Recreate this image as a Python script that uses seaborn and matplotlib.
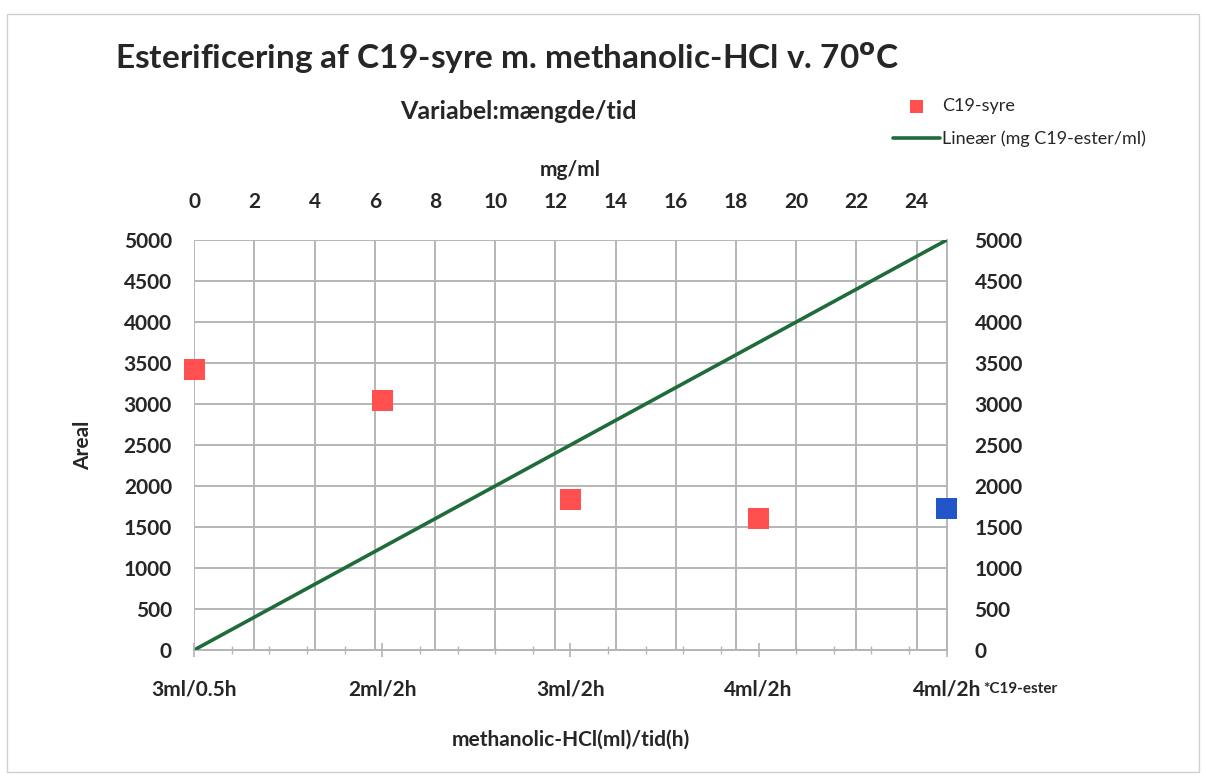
import matplotlib
matplotlib.use("Agg")
import matplotlib.pyplot as plt
from matplotlib.patches import Rectangle
import numpy as np
import pandas as pd
import seaborn as sns

# Data
categories = ["3ml/0.5h", "2ml/2h", "3ml/2h", "4ml/2h", "4ml/2h"]
category_pos = [0, 6.25, 12.5, 18.75, 25]          # position on mg/ml scale
acid_area = [3420, 3040, 1840, 1600]                # C19-syre, first four runs
ester_area = [1720]                                 # last run (C19-ester)
linear_mg = [0, 25]
linear_area = [0, 5000]

sns.set_theme(style="white")
plt.rcParams["font.family"] = ["Lato", "DejaVu Sans"]

fig = plt.figure(figsize=(12.06, 7.8), dpi=100)
ax = fig.add_axes([0.161, 0.1667, 0.624, 0.5256])
axr = ax.twinx()
axb = ax.twiny()

acid_df = pd.DataFrame({"x": category_pos[:4], "y": acid_area})
ester_df = pd.DataFrame({"x": category_pos[4:], "y": ester_area})
line_df = pd.DataFrame({"x": linear_mg, "y": linear_area})

sns.lineplot(data=line_df, x="x", y="y", ax=ax, color="#1f6b3a", lw=2.6,
             label="Lineær (mg C19-ester/ml)", zorder=3)
sns.scatterplot(data=acid_df, x="x", y="y", ax=ax, marker="s", s=230,
                color="#ff4f4f", edgecolor="none", label="C19-syre", zorder=4,
                clip_on=False)
sns.scatterplot(data=ester_df, x="x", y="y", ax=ax, marker="s", s=230,
                color="#2256c8", edgecolor="none", zorder=4, legend=False,
                clip_on=False)

tick_font = dict(fontsize=15, fontweight="bold")
grid_col = "#b5b5b5"

ax.set_xlim(0, 25)
ax.set_ylim(0, 5000)
ax.set_yticks(np.arange(0, 5001, 500))
ax.set_xticks(np.arange(0, 25, 2))
ax.grid(True, color=grid_col, lw=1.4)
for s in ax.spines.values():
    s.set_visible(False)
for side in ("bottom", "right"):
    ax.spines[side].set_visible(True)
    ax.spines[side].set_color(grid_col)
    ax.spines[side].set_linewidth(1.4)
ax.set_ylabel("Areal", fontsize=15, fontweight="bold", labelpad=22)
ax.tick_params(axis="y", left=False, pad=10)
for t in ax.get_yticklabels():
    t.set(**tick_font)

# right axis mirrors the area scale
axr.set_ylim(0, 5000)
axr.set_yticks(np.arange(0, 5001, 500))
axr.tick_params(axis="y", right=False, pad=14)
for t in axr.get_yticklabels():
    t.set(**tick_font)
for s in axr.spines.values():
    s.set_visible(False)
axr.grid(False)

# bottom category axis
axb.set_xlim(0, 25)
axb.xaxis.tick_bottom()
axb.xaxis.set_label_position("bottom")
axb.set_xticks(category_pos)
axb.set_xticklabels(categories)
axb.set_xticks(np.arange(0, 25.01, 25 / 20), minor=True)
axb.tick_params(axis="x", which="major", bottom=True, top=False, length=10,
                width=1.2, color=grid_col, direction="inout", pad=16)
axb.tick_params(axis="x", which="minor", bottom=True, top=False, length=6,
                width=1.0, color=grid_col, direction="inout")
for t in axb.get_xticklabels():
    t.set(**tick_font)
for s in axb.spines.values():
    s.set_visible(False)
axb.grid(False)
axb.set_xlabel("methanolic-HCl(ml)/tid(h)", fontsize=15, fontweight="bold",
               labelpad=22)
ax.text(26.2, -470, "*C19-ester", fontsize=11, fontweight="bold",
        ha="left", va="center", clip_on=False)

# top axis: mg/ml (set after the twins so it stays on top)
ax.xaxis.tick_top()
ax.xaxis.set_label_position("top")
ax.tick_params(axis="x", top=False, bottom=False, pad=14)
for t in ax.get_xticklabels():
    t.set(**tick_font)
ax.set_xlabel("mg/ml", fontsize=15, fontweight="bold", labelpad=12)

# legend outside the plot, top right
handles, labels = ax.get_legend_handles_labels()
order = [1, 0]
ax.legend([handles[i] for i in order], [labels[i] for i in order],
          loc="upper left", bbox_to_anchor=(0.727, 0.895),
          bbox_transform=fig.transFigure, frameon=False, fontsize=13,
          handlelength=2.6, handletextpad=0.1, labelspacing=0.9,
          markerscale=0.65)

fig.text(0.095, 0.925, "Esterificering af C19-syre m. methanolic-HCl v. 70$^{\\mathbf{o}}$C",
         fontsize=24, fontweight="bold", ha="left", va="center")
fig.text(0.43, 0.857, "Variabel:mængde/tid", fontsize=18, fontweight="bold",
         ha="center", va="center")

fig.patches.append(Rectangle((0.006, 0.01), 0.988, 0.972, transform=fig.transFigure,
                             fill=False, edgecolor="#d0d0d0", lw=1.0))

fig.savefig("out.png", dpi=100)
